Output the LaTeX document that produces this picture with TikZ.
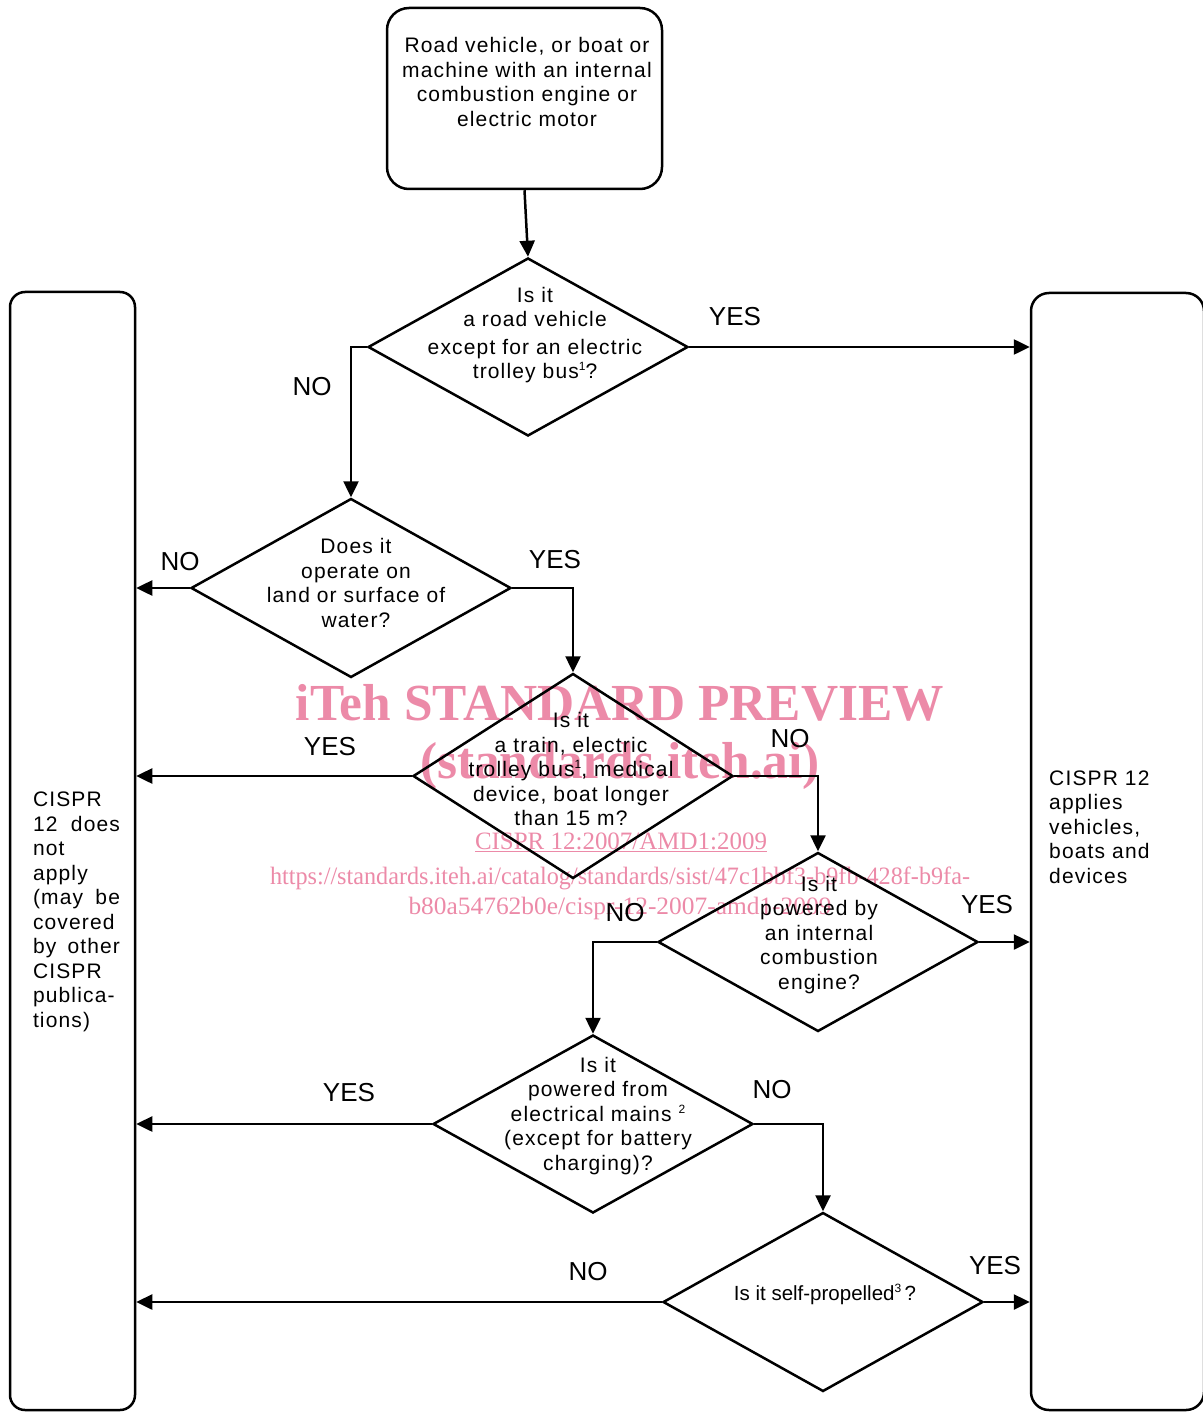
\documentclass[tikz,border=0pt]{standalone}
\usepackage{fontspec}
\usepackage{graphicx}
\setmainfont{Liberation Sans}
\newfontfamily\dgfont[LetterSpace=5.5]{Liberation Sans}
\newfontfamily\wmfont{Liberation Serif}
\usetikzlibrary{shapes.geometric,arrows.meta}
\definecolor{wm}{RGB}{236,138,168}
\newcommand\jline[2]{\leavevmode\hbox to 87pt{#1\hfill #2}}
\newcommand\fnsup[1]{\raisebox{8pt}{\fontsize{12}{12}\selectfont #1}}
\tikzset{
  dia/.style={diamond, draw, line width=2.5pt, minimum width=320pt, minimum height=179pt, inner sep=0pt, aspect=1},
  rbox/.style={draw, line width=2.5pt, inner sep=0pt},
  dtext/.style={align=center, inner sep=0pt, font=\dgfont\fontsize{21}{24.5}\selectfont},
  lbl/.style={inner sep=0pt, font=\fontsize{26}{30}\selectfont},
  wmtext/.style={inner sep=0pt, text=wm, anchor=base},
  arr/.style={line width=2.5pt, -{Triangle[length=16pt,width=15pt]}},
}
\begin{document}
\begin{tikzpicture}[x=1pt,y=-1pt]
\useasboundingbox (0,0) rectangle (1202,1412);
% watermark
\node[wmtext, font=\wmfont\bfseries\fontsize{52}{60}\selectfont] (wm1) at (620,720) {\resizebox{648pt}{\height}{iTeh STANDARD PREVIEW}};
\node[wmtext, font=\wmfont\bfseries\fontsize{52}{60}\selectfont] (wm2) at (620,778) {\resizebox{400pt}{\height}{(standards.iteh.ai)}};
\node[wmtext, font=\wmfont\fontsize{25}{30}\selectfont] (wm3) at (621,849) {\resizebox{292pt}{\height}{\underline{CISPR 12:2007/AMD1:2009}}};
\node[wmtext, font=\wmfont\fontsize{25}{30}\selectfont] (wm4) at (620,884) {\resizebox{700pt}{\height}{https://standards.iteh.ai/catalog/standards/sist/47c1bbf3-b9fb-428f-b9fa-}};
\node[wmtext, font=\wmfont\fontsize{25}{30}\selectfont] (wm5) at (620,914) {\resizebox{423pt}{\height}{b80a54762b0e/cispr-12-2007-amd1-2009}};
% boxes
\node[rbox, rounded corners=22pt, minimum width=275pt, minimum height=181pt] (top) at (524.5,98.5) {};
\node[rbox, rounded corners=15pt, minimum width=125pt, minimum height=1118pt] (lbox) at (72.5,851) {};
\node[rbox, rounded corners=18pt, minimum width=173pt, minimum height=1117pt] (rbx) at (1117.5,851.5) {};
% diamonds
\node[dia, minimum height=178pt] (d1) at (528,347) {};
\node[dia] (d2) at (351,588) {};
\node[dia, minimum height=205pt] (d3) at (573,776) {};
\node[dia] (d4) at (818,942) {};
\node[dia, minimum height=178pt] (d5) at (593,1124) {};
\node[dia] (d6) at (823,1302) {};
% texts
\node[dtext] (ttop) at (527,82) {Road vehicle, or boat or\\machine with an internal\\combustion engine or\\electric motor};
\node[dtext] (t1) at (535,335) {Is it\\a road vehicle\\[3pt]except for an electric\\trolley bus\fnsup{1}?};
\node[dtext] (t2) at (356,583) {Does it\\operate on\\land or surface of\\water?};
\node[dtext] (t3) at (571,769) {Is it\\a train, electric\\trolley bus\fnsup{1}, medical\\device, boat longer\\than 15 m?};
\node[dtext] (t4) at (819,935) {Is it\\powered by\\an internal\\combustion\\engine?};
\node[dtext] (t5) at (598,1116) {Is it\\powered from\\electrical mains \fnsup{2}\\(except for battery\\charging)?};
\node[inner sep=0pt, font=\fontsize{20.5}{24.5}\selectfont] (t6) at (825,1294) {Is it self-propelled\fnsup{3}\,?};
\node[dtext, align=left, text width=87pt] (tl) at (76.5,912) {CISPR\\\jline{12}{does}\\not\\apply\\\jline{(may}{be}\\covered\\\jline{by}{other}\\CISPR\\publica-\\tions)};
\node[dtext, align=left, anchor=west] (tr) at (1049,827) {CISPR 12\\applies\\vehicles,\\boats and\\devices};
% connectors
\draw[arr] (top.south) -- (d1.north);
\draw[arr] (d1.east) -- (d1.east -| rbx.west);
\draw[arr] (d1.west) -| (d2.north);
\draw[arr] (d2.west) -- (d2.west -| lbox.east);
\draw[arr] (d2.east) -| (d3.north);
\draw[arr] (d3.west) -- (d3.west -| lbox.east);
\draw[arr] (d3.east) -| (d4.north);
\draw[arr] (d4.east) -- (d4.east -| rbx.west);
\draw[arr] (d4.west) -| (d5.north);
\draw[arr] (d5.west) -- (d5.west -| lbox.east);
\draw[arr] (d5.east) -| (d6.north);
\draw[arr] (d6.west) -- (d6.west -| lbox.east);
\draw[arr] (d6.east) -- (d6.east -| rbx.west);
% labels
\node[lbl] (l1y) at (735,317) {YES};
\node[lbl] (l1n) at (312,387) {NO};
\node[lbl] (l2n) at (180,562) {NO};
\node[lbl] (l2y) at (555,560) {YES};
\node[lbl] (l3y) at (330,747) {YES};
\node[lbl] (l3n) at (790,739) {NO};
\node[lbl] (l4y) at (987,905) {YES};
\node[lbl] (l4n) at (625,913) {NO};
\node[lbl] (l5y) at (349,1093) {YES};
\node[lbl] (l5n) at (772,1090) {NO};
\node[lbl] (l6n) at (588,1272) {NO};
\node[lbl] (l6y) at (995,1266) {YES};
\end{tikzpicture}
\end{document}
